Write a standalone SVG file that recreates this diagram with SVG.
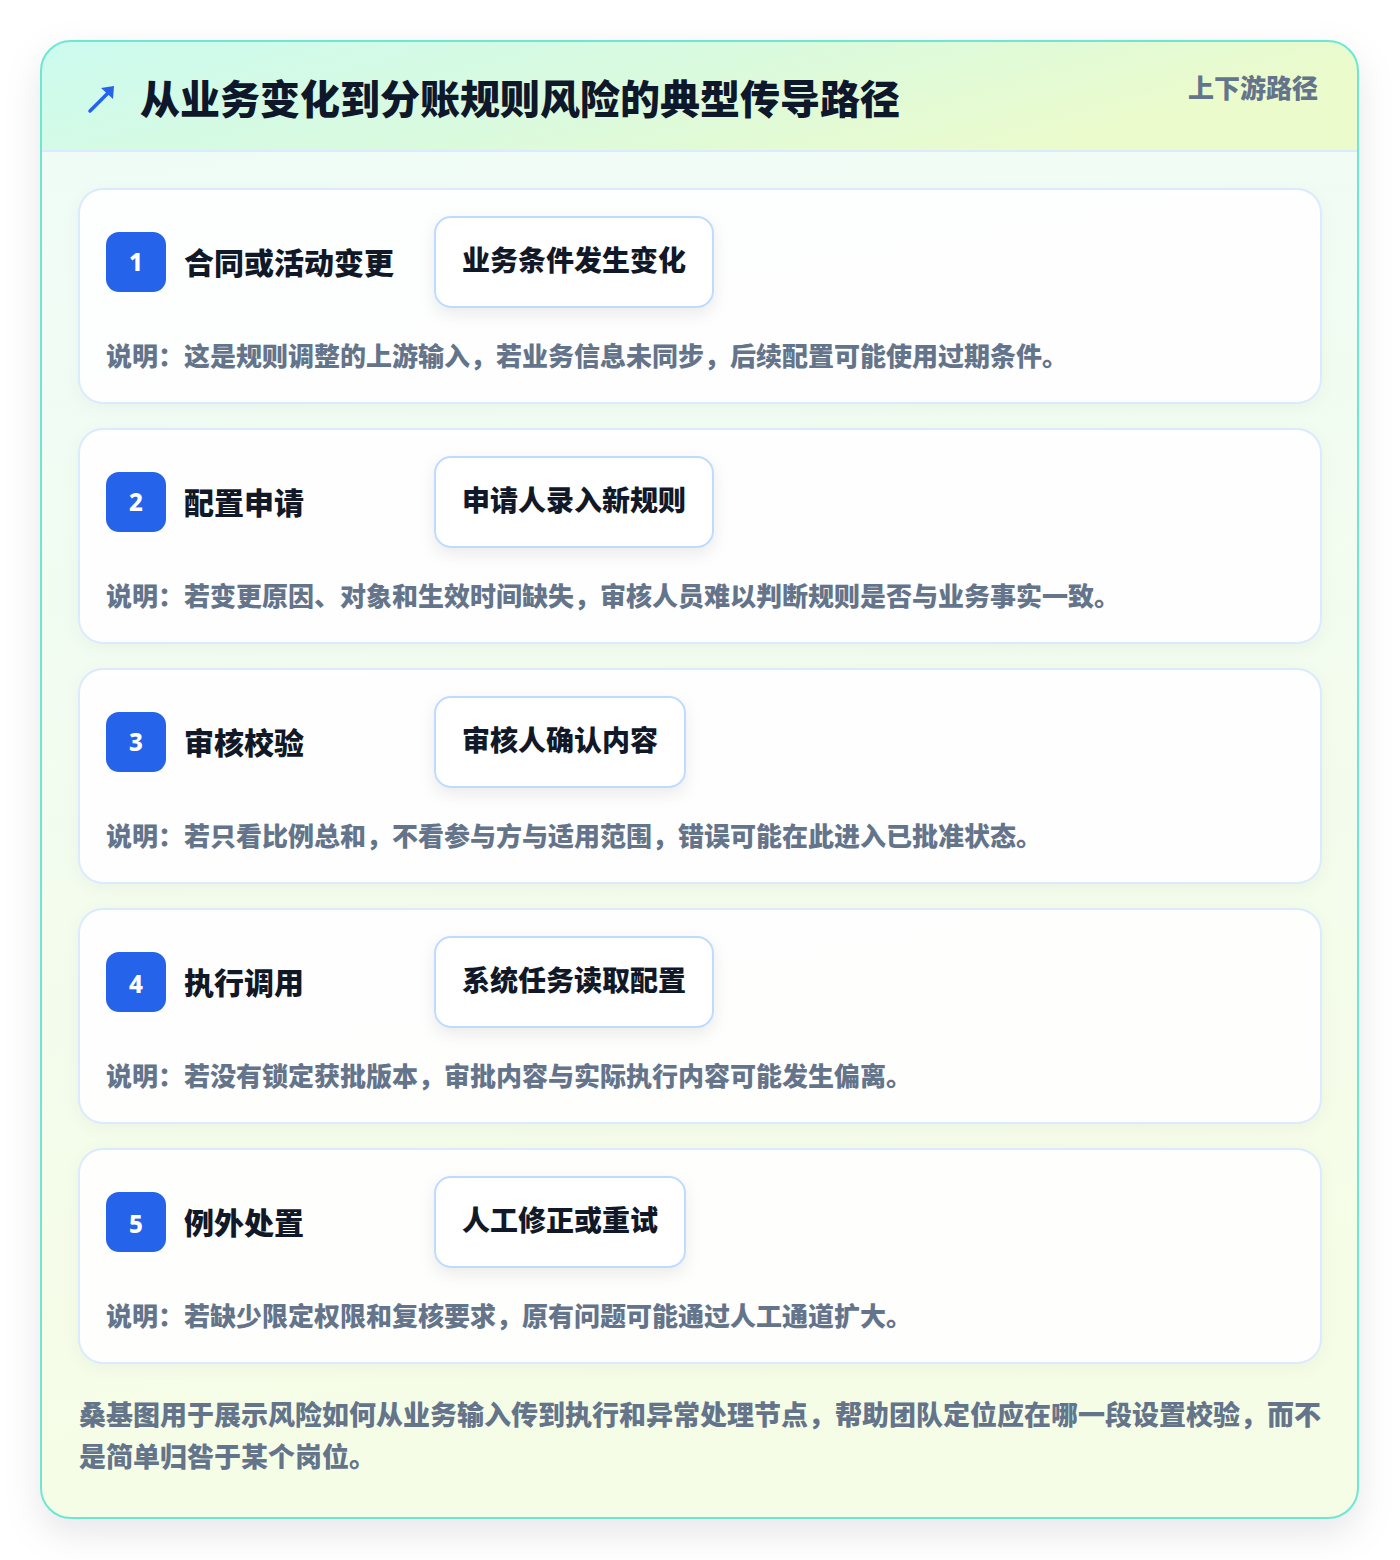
<svg xmlns="http://www.w3.org/2000/svg" width="1400" height="1560" viewBox="0 0 1400 1560">
<defs>
<linearGradient id="hdr" x1="0" y1="0" x2="1" y2="0.3">
<stop offset="0" stop-color="#ccfbef"/>
<stop offset="0.5" stop-color="#d9fadf"/>
<stop offset="1" stop-color="#ecfbcb"/>
</linearGradient>
<linearGradient id="body" x1="0" y1="0" x2="0.15" y2="1">
<stop offset="0" stop-color="#effcf8"/>
<stop offset="1" stop-color="#f6fde6"/>
</linearGradient>
<clipPath id="outerClip"><rect x="41" y="41" width="1317" height="1477" rx="30"/></clipPath>
<filter id="bigShadow" x="-10%" y="-10%" width="120%" height="120%">
<feDropShadow dx="0" dy="14" stdDeviation="18" flood-color="#0f172a" flood-opacity="0.10"/>
</filter>
<filter id="cardShadow" x="-5%" y="-10%" width="110%" height="130%">
<feDropShadow dx="0" dy="4" stdDeviation="8" flood-color="#0f172a" flood-opacity="0.04"/>
</filter>
<filter id="pillShadow" x="-20%" y="-30%" width="140%" height="170%">
<feDropShadow dx="0" dy="6" stdDeviation="8" flood-color="#0f172a" flood-opacity="0.08"/>
</filter>
</defs>
<style>
.t{font-family:"Noto Sans CJK SC","Noto Sans",sans-serif;font-weight:800}
.title{font-size:40px;fill:#0f172a}
.tag{font-size:26px;fill:#64748b}
.card{fill:#ffffff;fill-opacity:0.9;stroke:#dbeafe;stroke-width:2}
.badge{fill:#2563eb}
.num{font-family:"Noto Sans","Liberation Sans",sans-serif;font-weight:800;font-size:24px;fill:#ffffff}
.ctitle{font-size:30px;fill:#111827}
.pill{fill:#ffffff;stroke:#bfdbfe;stroke-width:2}
.ptext{font-size:28px;fill:#111827}
.desc{font-size:26px;fill:#64748b}
.foot{font-size:27px;fill:#64748b}
</style>
<rect x="0" y="0" width="1400" height="1560" fill="#ffffff"/>
<g id="frame">
<rect x="41" y="41" width="1317" height="1477" rx="30" fill="url(#body)" filter="url(#bigShadow)"/>
<g clip-path="url(#outerClip)">
<rect x="41" y="41" width="1317" height="110" fill="url(#hdr)"/>
<line x1="41" y1="151" x2="1358" y2="151" stroke="#dbeafe" stroke-width="2"/>
</g>
<rect x="41" y="41" width="1317" height="1477" rx="30" fill="none" stroke="#6ee7d2" stroke-width="2"/>
</g>
<g id="header">
<g stroke="#2563eb" stroke-width="3.5" stroke-linecap="round" fill="none">
<line x1="90" y1="111" x2="111" y2="90"/>
</g>
<polygon points="114,86 113,99 101,88" fill="#2563eb"/>
<text class="t title" x="140" y="114">从业务变化到分账规则风险的典型传导路径</text>
<text class="t tag" x="1318" y="98" text-anchor="end">上下游路径</text>
</g>
<g id="connectors"></g>
<g id="step1">
<rect class="card" x="79" y="189" width="1242" height="214" rx="24" filter="url(#cardShadow)"/>
<rect class="badge" x="106" y="232" width="60" height="60" rx="13"/>
<text class="num" x="136" y="271" text-anchor="middle">1</text>
<text class="t ctitle" x="184" y="274">合同或活动变更</text>
<rect class="pill" x="435" y="217" width="278" height="90" rx="16" filter="url(#pillShadow)"/>
<text class="t ptext" x="462" y="271">业务条件发生变化</text>
<text class="t desc" x="106" y="366">说明：这是规则调整的上游输入，若业务信息未同步，后续配置可能使用过期条件。</text>
</g>
<g id="step2">
<rect class="card" x="79" y="429" width="1242" height="214" rx="24" filter="url(#cardShadow)"/>
<rect class="badge" x="106" y="472" width="60" height="60" rx="13"/>
<text class="num" x="136" y="511" text-anchor="middle">2</text>
<text class="t ctitle" x="184" y="514">配置申请</text>
<rect class="pill" x="435" y="457" width="278" height="90" rx="16" filter="url(#pillShadow)"/>
<text class="t ptext" x="462" y="511">申请人录入新规则</text>
<text class="t desc" x="106" y="606">说明：若变更原因、对象和生效时间缺失，审核人员难以判断规则是否与业务事实一致。</text>
</g>
<g id="step3">
<rect class="card" x="79" y="669" width="1242" height="214" rx="24" filter="url(#cardShadow)"/>
<rect class="badge" x="106" y="712" width="60" height="60" rx="13"/>
<text class="num" x="136" y="751" text-anchor="middle">3</text>
<text class="t ctitle" x="184" y="754">审核校验</text>
<rect class="pill" x="435" y="697" width="250" height="90" rx="16" filter="url(#pillShadow)"/>
<text class="t ptext" x="462" y="751">审核人确认内容</text>
<text class="t desc" x="106" y="846">说明：若只看比例总和，不看参与方与适用范围，错误可能在此进入已批准状态。</text>
</g>
<g id="step4">
<rect class="card" x="79" y="909" width="1242" height="214" rx="24" filter="url(#cardShadow)"/>
<rect class="badge" x="106" y="952" width="60" height="60" rx="13"/>
<text class="num" x="136" y="993" text-anchor="middle">4</text>
<text class="t ctitle" x="184" y="994">执行调用</text>
<rect class="pill" x="435" y="937" width="278" height="90" rx="16" filter="url(#pillShadow)"/>
<text class="t ptext" x="462" y="991">系统任务读取配置</text>
<text class="t desc" x="106" y="1086">说明：若没有锁定获批版本，审批内容与实际执行内容可能发生偏离。</text>
</g>
<g id="step5">
<rect class="card" x="79" y="1149" width="1242" height="214" rx="24" filter="url(#cardShadow)"/>
<rect class="badge" x="106" y="1192" width="60" height="60" rx="13"/>
<text class="num" x="136" y="1233" text-anchor="middle">5</text>
<text class="t ctitle" x="184" y="1234">例外处置</text>
<rect class="pill" x="435" y="1177" width="250" height="90" rx="16" filter="url(#pillShadow)"/>
<text class="t ptext" x="462" y="1231">人工修正或重试</text>
<text class="t desc" x="106" y="1326">说明：若缺少限定权限和复核要求，原有问题可能通过人工通道扩大。</text>
</g>
<g id="footer">
<text class="t foot" x="79" y="1425">桑基图用于展示风险如何从业务输入传到执行和异常处理节点，帮助团队定位应在哪一段设置校验，而不</text>
<text class="t foot" x="79" y="1467">是简单归咎于某个岗位。</text>
</g>
</svg>
